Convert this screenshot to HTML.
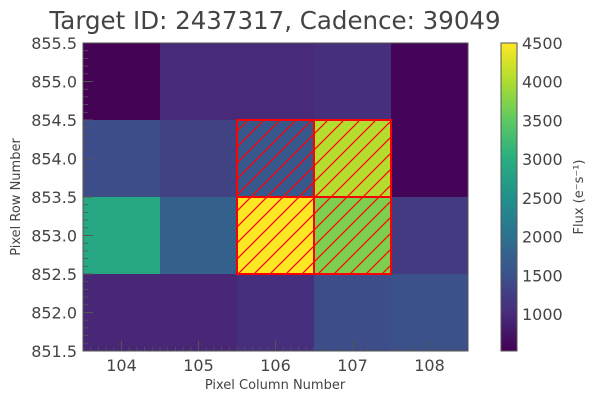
<!DOCTYPE html>
<html><head><meta charset="utf-8"><style>
body{margin:0;background:#fff;font-family:"Liberation Sans","DejaVu Sans",sans-serif}
</style></head><body>
<svg id="chart" width="599" height="403" xmlns="http://www.w3.org/2000/svg" font-family="DejaVu Sans, Liberation Sans, sans-serif">
<defs>
<pattern id="hatch" patternUnits="userSpaceOnUse" width="16" height="16">
<path d="M-4,4 L4,-4 M0,16 L16,0 M12,20 L20,12" stroke="#ff0000" stroke-width="1.2"/>
</pattern>
<linearGradient id="cbg" x1="0" y1="1" x2="0" y2="0">
<stop offset="0" stop-color="#440154"/><stop offset="0.125" stop-color="#472d7b"/>
<stop offset="0.25" stop-color="#3b528b"/><stop offset="0.375" stop-color="#2c728e"/>
<stop offset="0.5" stop-color="#21918c"/><stop offset="0.625" stop-color="#28ae80"/>
<stop offset="0.75" stop-color="#5ec962"/><stop offset="0.875" stop-color="#addc30"/>
<stop offset="1" stop-color="#fde725"/></linearGradient>
</defs>
<text x="275" y="29" font-size="24.5" fill="#444" text-anchor="middle">Target ID: 2437317, Cadence: 39049</text>
<g id="cells"></g>
<g id="axes"></g>
<text x="275" y="389" font-size="13" fill="#444" text-anchor="middle">Pixel Column Number</text>
<text transform="translate(20,197) rotate(-90)" font-size="13" fill="#444" text-anchor="middle">Pixel Row Number</text>
<rect x="501" y="43" width="16" height="308" fill="url(#cbg)" stroke="#555" stroke-width="1"/>
<g id="cbticks"></g>
<text transform="translate(583,197) rotate(-90)" font-size="13" fill="#444" text-anchor="middle">Flux (e⁻s⁻¹)</text>
</svg>
<script>
const columns=[104,105,106,107,108];
const rows=[855,854,853,852];
const flux=[
[530,1000,1000,1050,560],
[1450,1300,1600,4050,560],
[2900,1750,4500,3700,1200],
[950,950,1050,1450,1500]];
const apertureMask=[[0,0,0,0,0],[0,0,1,1,0],[0,0,1,1,0],[0,0,0,0,0]];
const xTicks=[104,105,106,107,108];
const yTicks=[851.5,852.0,852.5,853.0,853.5,854.0,854.5,855.0,855.5];
const cbTicks=[1000,1500,2000,2500,3000,3500,4000,4500];
const vmin=522,vmax=4500;
const X0=83,X1=468,Y0=43,Y1=351;
const xs=v=>X0+(v-103.5)/5*(X1-X0);
const ys=v=>Y1-(v-851.5)/4*(Y1-Y0);
const cs=v=>Y1-(v-vmin)/(vmax-vmin)*(Y1-Y0);
const vir=[[68,1,84],[71,45,123],[59,82,139],[44,114,142],[33,145,140],[40,174,128],[94,201,98],[173,220,48],[253,231,37]];
function color(v){let t=Math.max(0,Math.min(1,(v-vmin)/(vmax-vmin)))*8;let i=Math.min(7,Math.floor(t)),f=t-i;
const c=vir[i].map((a,k)=>Math.round(a+(vir[i+1][k]-a)*f));return `rgb(${c})`;}
const NS="http://www.w3.org/2000/svg";
function mk(tag,at,parent){const e=document.createElementNS(NS,tag);for(const k in at)e.setAttribute(k,at[k]);parent.appendChild(e);return e;}
const g=document.getElementById('cells');
rows.forEach((r,i)=>columns.forEach((c,j)=>{
const x=xs(c-0.5),y=ys(r+0.5),w=xs(c+0.5)-x,h=ys(r-0.5)-y;
const el=mk('rect',{x:x,y:y,width:w+0.5,height:h+0.5,fill:color(flux[i][j])},g);


}));
rows.forEach((r,i)=>columns.forEach((c,j)=>{
if(!apertureMask[i][j])return;
const x=xs(c-0.5),y=ys(r+0.5),w=xs(c+0.5)-x,h=ys(r-0.5)-y;
const el=mk('rect',{x:x,y:y,width:w,height:h,fill:'url(#hatch)',stroke:'#ff0000','stroke-width':2},g);


}));
const a=document.getElementById('axes');
const fr=mk('rect',{x:X0,y:Y0,width:X1-X0,height:Y1-Y0,fill:'none',stroke:'#555','stroke-width':1},a);


xTicks.forEach(t=>{const x=xs(t);
mk('line',{x1:x,x2:x,y1:Y1,y2:Y1-10,stroke:'#555'},a);
const tx=mk('text',{x:x,y:Y1+20,'font-size':16,fill:'#444','text-anchor':'middle'},a);tx.textContent=t;


});
for(let v=103.6;v<108.5;v+=0.1){const x=xs(v);mk('line',{x1:x,x2:x,y1:Y1,y2:Y1-4,stroke:'#555','stroke-width':0.8},a);}
yTicks.forEach(t=>{const y=ys(t);
mk('line',{x1:X0,x2:X0+10,y1:y,y2:y,stroke:'#555'},a);
const tx=mk('text',{x:X0-6,y:y+6,'font-size':16,fill:'#444','text-anchor':'end'},a);tx.textContent=t.toFixed(1);


});
for(let v=851.6;v<855.5;v+=0.1){const y=ys(v);mk('line',{x1:X0,x2:X0+5,y1:y,y2:y,stroke:'#555','stroke-width':0.8},a);}
const cb=document.getElementById('cbticks');
cbTicks.forEach(t=>{const y=cs(t);
const tx=mk('text',{x:522,y:y+6,'font-size':16,fill:'#444'},cb);tx.textContent=t;


});
</script>
</body></html>
